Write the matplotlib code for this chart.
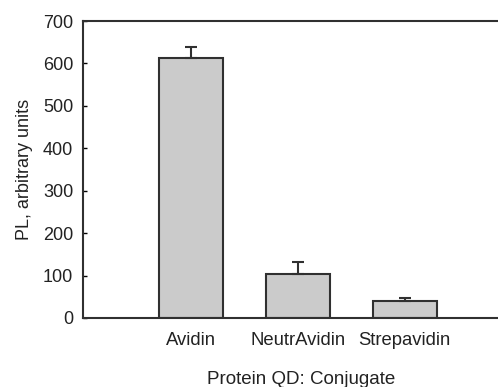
import matplotlib
matplotlib.use("Agg")
import matplotlib.pyplot as plt

plt.rcParams['font.family'] = ['Liberation Sans', 'DejaVu Sans']

conjugates = ['Avidin', 'NeutrAvidin', 'Strepavidin']
pl_values = [612, 103, 40]
pl_errors = [26, 30, 8]

fig = plt.figure(figsize=(4.98, 3.87), dpi=100)
ax = fig.add_axes([83 / 498, 1 - 318 / 387, 1 - 83 / 498 + 0.01, 297 / 387])

x = range(len(conjugates))
ax.bar(x, pl_values, width=0.6, color='#cbcbcb', edgecolor='#303030', linewidth=1.5, zorder=2)
ax.errorbar(x, pl_values, yerr=[[0] * len(pl_errors), pl_errors], fmt='none',
            ecolor='#303030', elinewidth=1.5, capsize=4, capthick=1.5, zorder=3)

ax.set_xlim(-1.01, 2.92)
ax.set_ylim(0, 700)
ax.set_yticks(range(0, 701, 100))
ax.set_xticks(list(x))
ax.set_xticklabels(conjugates, fontsize=13.3, color='#222222')
ax.tick_params(axis='x', length=0, pad=10)
ax.tick_params(axis='y', direction='in', length=3, width=1, labelsize=13, labelcolor='#222222', pad=7)
ax.spines['right'].set_visible(False)
for s in ['left', 'top', 'bottom']:
    ax.spines[s].set_linewidth(1.5)
    ax.spines[s].set_color('#303030')

ax.set_ylabel('PL, arbitrary units', fontsize=13, color='#222222')
ax.yaxis.set_label_coords(-0.12, 0.5)
ax.set_xlabel('Protein QD: Conjugate', fontsize=13.5, color='#222222')
ax.xaxis.set_label_coords(0.519, -0.178)

fig.savefig('out.png', dpi=100)
